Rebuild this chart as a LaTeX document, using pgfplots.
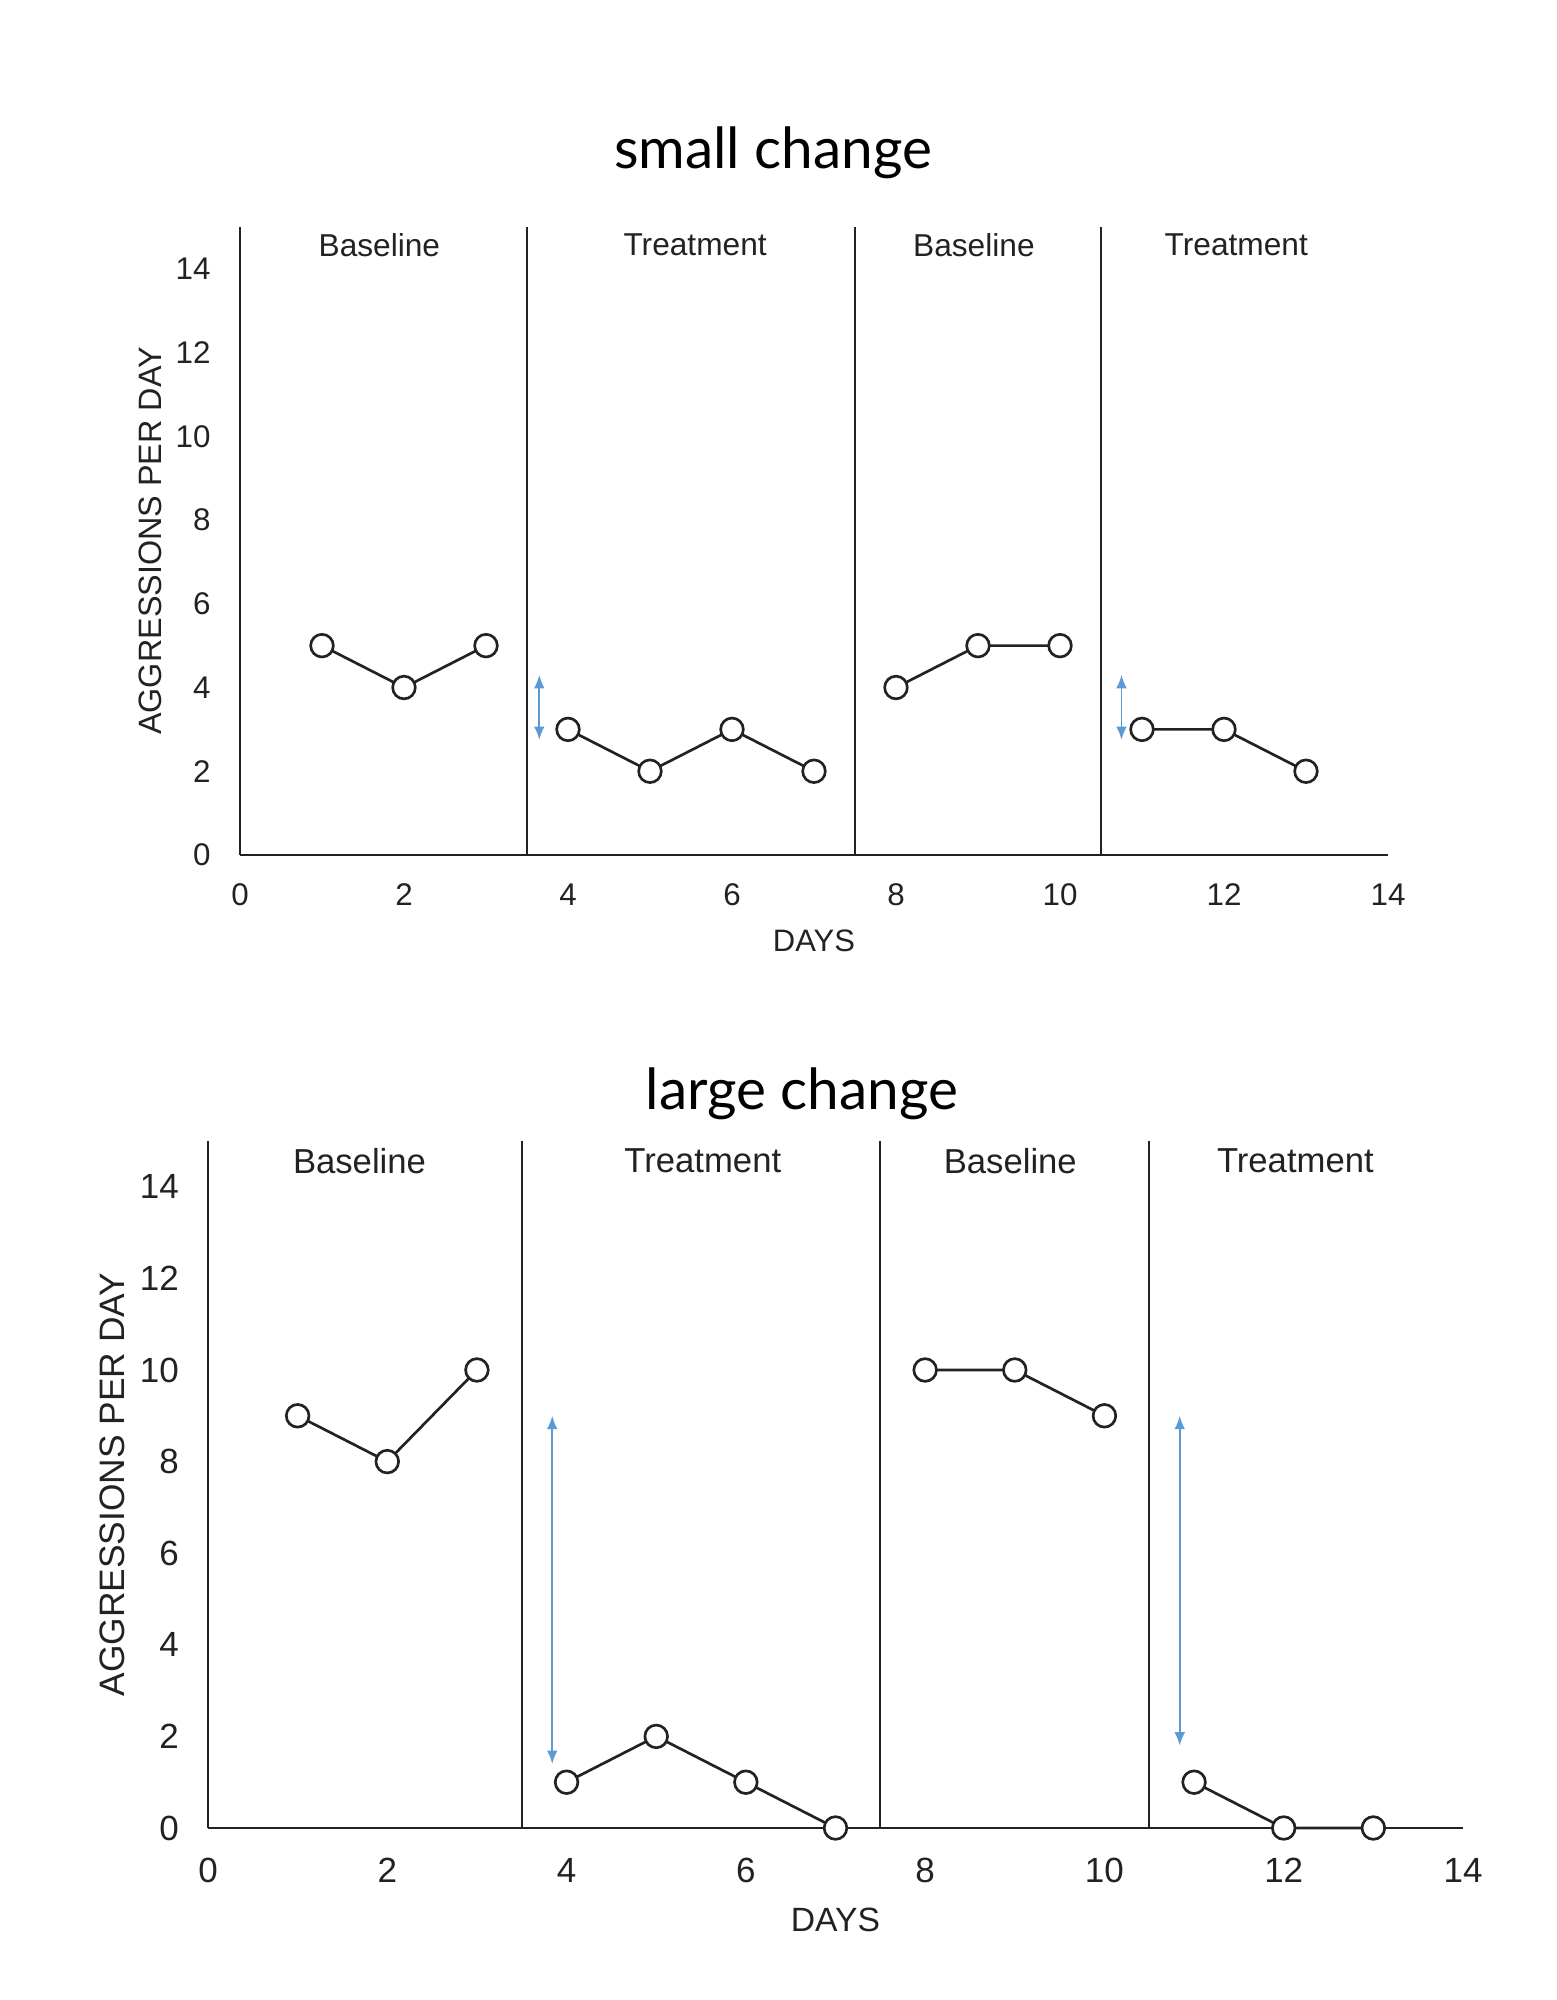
\documentclass[border=0pt]{standalone}
\usepackage{fontspec}
\setmainfont{Liberation Sans}
\newfontfamily\titlefont{Lato}
\usepackage{pgfplots}
\pgfplotsset{compat=1.18}
\usetikzlibrary{arrows.meta}
\definecolor{ln}{HTML}{222222}
\definecolor{arr}{HTML}{5B9BD5}
\pgfplotsset{
 ssc/.style={
  scale only axis, xmin=0, xmax=14, ymin=0, ymax=15,
  axis x line=bottom, axis y line=left,
  axis line style={-, draw=ln, line width=0.85pt},
  xtick={0,2,...,14}, ytick={0,2,...,14},
  major tick length=0pt,
  /pgf/number format/assume math mode=true,
  clip=false,
 },
 pts/.style={draw=ln, line width=0.8pt, mark=*, mark size=3.4pt,
     mark options={fill=white, draw=ln, line width=0.8pt, solid}},
}
\begin{document}
\begin{tikzpicture}
\useasboundingbox (0,0) rectangle (466.8pt,600pt);
% ---------------- top: small change
\node[font=\titlefont\fontsize{17}{20}\selectfont] at (231.9pt,554.1pt) {small change};
\begin{axis}[ssc,
  at={(72pt,343.5pt)}, anchor=south west,
  width=344.4pt, height=188.4pt,
  ticklabel style={font=\fontsize{9.4}{11}\selectfont, text=ln},
  xticklabel style={yshift=-5.2pt},
  yticklabel style={xshift=-5.3pt},
  xlabel={DAYS}, ylabel={AGGRESSIONS PER DAY},
  every axis x label/.style={at={(axis cs:7,0)}, anchor=center, yshift=-25.8pt, font=\fontsize{9.3}{11}\selectfont, text=ln},
  every axis y label/.style={at={([xshift=-26.9pt]axis cs:0,7.5)}, anchor=center, rotate=90, font=\fontsize{9.7}{11}\selectfont, text=ln},
]
\draw[ln, line width=0.65pt] (axis cs:3.5,0) -- (axis cs:3.5,15);
\draw[ln, line width=0.65pt] (axis cs:7.5,0) -- (axis cs:7.5,15);
\draw[ln, line width=0.65pt] (axis cs:10.5,0) -- (axis cs:10.5,15);
\addplot[pts] coordinates {(1,5) (2,4) (3,5)};
\addplot[pts] coordinates {(4,3) (5,2) (6,3) (7,2)};
\addplot[pts] coordinates {(8,4) (9,5) (10,5)};
\addplot[pts] coordinates {(11,3) (12,3) (13,2)};
\draw[arr, line width=0.5pt, {Latex[length=4pt,width=3.2pt]}-{Latex[length=4pt,width=3.2pt]}] (axis cs:3.65,2.75) -- (axis cs:3.65,4.3);
\draw[arr, line width=0.5pt, {Latex[length=4pt,width=3.2pt]}-{Latex[length=4pt,width=3.2pt]}] (axis cs:10.75,2.75) -- (axis cs:10.75,4.3);
\node[font=\fontsize{9.5}{11}\selectfont, text=ln] at (axis cs:1.7,14.57) {Baseline};
\node[font=\fontsize{9.5}{11}\selectfont, text=ln] at (axis cs:5.55,14.57) {Treatment};
\node[font=\fontsize{9.5}{11}\selectfont, text=ln] at (axis cs:8.95,14.57) {Baseline};
\node[font=\fontsize{9.5}{11}\selectfont, text=ln] at (axis cs:12.15,14.57) {Treatment};
\end{axis}
% ---------------- bottom: large change
\node[font=\titlefont\fontsize{17}{20}\selectfont] at (240.6pt,271.8pt) {large change};
\begin{axis}[ssc,
  at={(62.4pt,51.6pt)}, anchor=south west,
  width=376.5pt, height=206.1pt,
  ticklabel style={font=\fontsize{10.5}{12}\selectfont, text=ln},
  xticklabel style={yshift=-5.6pt},
  yticklabel style={xshift=-5.2pt},
  xlabel={DAYS}, ylabel={AGGRESSIONS PER DAY},
  every axis x label/.style={at={(axis cs:7,0)}, anchor=center, yshift=-27.6pt, font=\fontsize{10.1}{12}\selectfont, text=ln},
  every axis y label/.style={at={([xshift=-28.8pt]axis cs:0,7.5)}, anchor=center, rotate=90, font=\fontsize{10.6}{12}\selectfont, text=ln},
]
\draw[ln, line width=0.65pt] (axis cs:3.5,0) -- (axis cs:3.5,15);
\draw[ln, line width=0.65pt] (axis cs:7.5,0) -- (axis cs:7.5,15);
\draw[ln, line width=0.65pt] (axis cs:10.5,0) -- (axis cs:10.5,15);
\addplot[pts] coordinates {(1,9) (2,8) (3,10)};
\addplot[pts] coordinates {(4,1) (5,2) (6,1) (7,0)};
\addplot[pts] coordinates {(8,10) (9,10) (10,9)};
\addplot[pts] coordinates {(11,1) (12,0) (13,0)};
\draw[arr, line width=0.5pt, {Latex[length=4pt,width=3.2pt]}-{Latex[length=4pt,width=3.2pt]}] (axis cs:3.84,1.4) -- (axis cs:3.84,9.0);
\draw[arr, line width=0.5pt, {Latex[length=4pt,width=3.2pt]}-{Latex[length=4pt,width=3.2pt]}] (axis cs:10.84,1.8) -- (axis cs:10.84,9.0);
\node[font=\fontsize{10.4}{12}\selectfont, text=ln] at (axis cs:1.69,14.56) {Baseline};
\node[font=\fontsize{10.4}{12}\selectfont, text=ln] at (axis cs:5.52,14.56) {Treatment};
\node[font=\fontsize{10.4}{12}\selectfont, text=ln] at (axis cs:8.95,14.56) {Baseline};
\node[font=\fontsize{10.4}{12}\selectfont, text=ln] at (axis cs:12.13,14.56) {Treatment};
\end{axis}
\end{tikzpicture}
\end{document}
